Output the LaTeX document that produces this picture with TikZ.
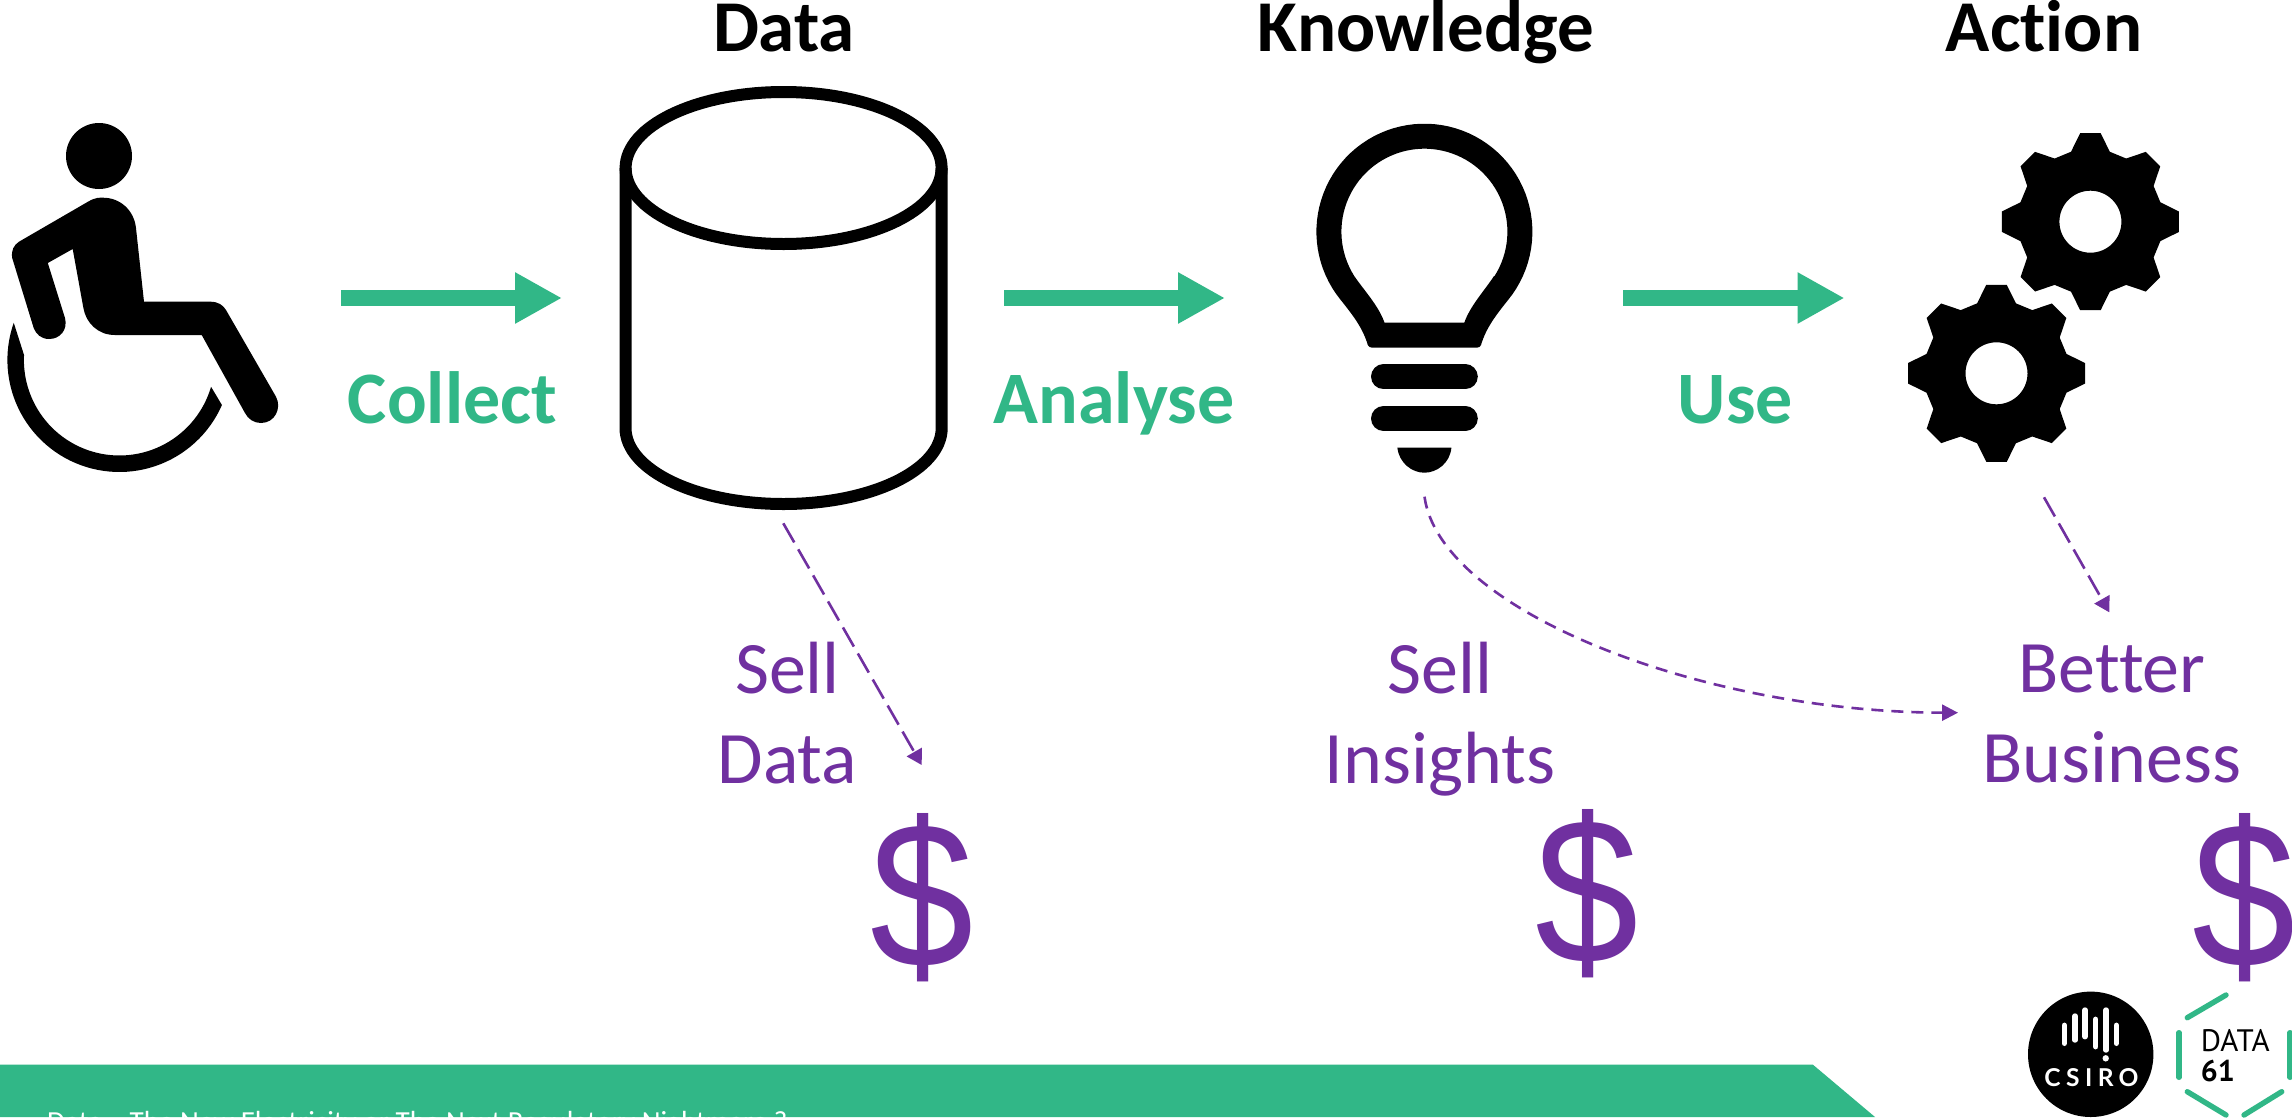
\documentclass[tikz,border=0pt]{standalone}
\usepackage{fontspec}
\setmainfont[Ligatures=NoCommon]{Carlito}
\newfontfamily\logofont[LetterSpace=22]{Lato}
\newfontfamily\dinfont{PT Sans}
\newfontfamily\dollarfont{Liberation Sans}
\usetikzlibrary{arrows.meta}
\definecolor{brandgreen}{HTML}{31B787}
\definecolor{brandpurple}{HTML}{7030A0}
\newcommand{\gearshape}[2]{%
  \begin{scope}[shift={(#1,#2)}]
    \fill[black,even odd rule] (-15.5:72.6)
      \foreach \a in {0,45,...,315} {
        -- ({\a-15.5}:72.6) -- ({\a-6.6}:89.1) -- ({\a+6.6}:89.1) -- ({\a+15.5}:72.6)
      } -- cycle
      (0,0) circle[radius=31];
  \end{scope}}
\tikzset{
  bigtitle/.style={font=\fontsize{73}{88}\selectfont\bfseries,text=black,inner sep=0,anchor=base},
  greenlabel/.style={font=\fontsize{74}{88}\selectfont\bfseries,text=brandgreen,inner sep=0,anchor=base},
  purplelabel/.style={font=\fontsize{74}{89.6}\selectfont,text=brandpurple,inner sep=0,anchor=base},
  dollar/.style={font=\dollarfont\fontsize{204}{204}\selectfont,text=brandpurple,inner sep=0,anchor=base},
  flowarrow/.style={draw=brandgreen,line width=16pt,-{Triangle[length=47pt,width=48pt]}},
  dasharrow/.style={draw=brandpurple,line width=2.6pt,dash pattern=on 22pt off 8pt,-{Triangle[length=15pt,width=17pt]}},
  dashcurve/.style={draw=brandpurple,line width=2.6pt,dash pattern=on 12pt off 8pt,-{Triangle[length=16pt,width=16pt]}},
  hexseg/.style={draw=brandgreen,line width=5.4pt,line cap=round},
  csirobar/.style={draw=white,line width=5.4pt,line cap=round},
  bulbbar/.style={draw=black,line width=25pt,line cap=round},
}
\begin{document}
\begin{tikzpicture}[x=1pt,y=-1pt]
\useasboundingbox (0,0) rectangle (2292,1117);
\clip (0,0) rectangle (2292,1117);
\fill[white] (0,0) rectangle (2292,1117);

% titles
\node[bigtitle] (tdata) at (784,51.7) {Data};
\node[bigtitle] (tknow) at (1426,51.7) {Knowledge};
\node[bigtitle] (tact) at (2044,51.7) {Action};

% person
\fill[black] (99,156) circle[radius=33];
\fill[black] (88,201.7) .. controls (96,197) and (100,197.7) .. (103,197.7) .. controls (120,197.7) and (134,210) .. (136,228) -- (144,301.7) -- (210.5,301.7) .. controls (218,301.7) and (223,305) .. (226,310) -- (276,396.7) .. controls (282,408) and (275,423) .. (261,423) .. controls (254,423) and (248,419) .. (245,413) -- (201.7,335) -- (114.8,335) .. controls (98,335) and (86,323) .. (83.4,308) -- (72.7,249) -- (47.8,263) -- (65,318) .. controls (68,330) and (60,339) .. (49,339) .. controls (41,339) and (36,334) .. (33.7,328) -- (12.2,258) .. controls (11,250) and (14,245) .. (19,241.7) -- cycle;
\fill[black] plot[domain=199.4:23.7,samples=60] ({119.4+112*cos(\x)},{360+112*sin(\x)}) -- plot[domain=16.3:183,samples=60] ({119.4+95.5*cos(\x)},{360+95.5*sin(\x)}) -- cycle;

% database
\draw[black,line width=12pt] (783.6,168) ellipse[x radius=158,y radius=76];
\draw[black,line width=12pt] (625.5,168) -- (625.5,428) .. controls (625.5,470) and (696,504) .. (783.6,504) .. controls (871,504) and (941.7,470) .. (941.7,428) -- (941.7,168);

% bulb
\fill[black,even odd rule]
  (1372,347.7) -- (1476.8,347.7) .. controls (1479,347.7) and (1480.5,346.5) .. (1481,345) .. controls (1486,328) and (1496,315) .. (1508.3,299.7)
  -- plot[domain=399:141,samples=70] ({1424.4+108*cos(\x)},{231.7+108*sin(\x)})
  .. controls (1352.8,315) and (1362.8,328) .. (1367.8,345) .. controls (1368.5,346.5) and (1370,347.7) .. (1372,347.7) -- cycle
  (1384.5,322.7) -- (1464.3,322.7) .. controls (1470,306) and (1485,290) .. (1494,276)
  -- plot[domain=392.5:147.5,samples=70] ({1424.4+83*cos(\x)},{231.7+83*sin(\x)})
  .. controls (1363.8,290) and (1378.8,306) .. (1384.5,322.7) -- cycle;
\draw[bulbbar] (1383.5,376.8) -- (1465.3,376.8);
\draw[bulbbar] (1383.5,418.5) -- (1465.3,418.5);
\fill[black] (1397.4,447.7) .. controls (1399,463) and (1412,472.7) .. (1424.4,472.7) .. controls (1437,472.7) and (1450,463) .. (1451.4,447.7) -- cycle;

% gears
\gearshape{2090.4}{221.7}
\gearshape{1996.5}{373.3}

% flow arrows
\coordinate (fa1s) at (341,298); \coordinate (fa1e) at (562,298);
\coordinate (fa2s) at (1004,298); \coordinate (fa2e) at (1225,298);
\coordinate (fa3s) at (1623.3,298); \coordinate (fa3e) at (1844.5,298);
\draw[flowarrow] (fa1s) -- (fa1e);
\draw[flowarrow] (fa2s) -- (fa2e);
\draw[flowarrow] (fa3s) -- (fa3e);
\node[greenlabel] (lcollect) at (452.5,423) {Collect};
\node[greenlabel] (lanalyse) at (1114,423) {Analyse};
\node[greenlabel] (luse) at (1735.5,423) {Use};

% dashed arrows
\coordinate (da1s) at (783.3,523.3); \coordinate (da1e) at (921.7,765);
\coordinate (da2s) at (1424.5,496.7); \coordinate (da2e) at (1958,712.7);
\coordinate (da3s) at (2044,497.3); \coordinate (da3e) at (2109.3,612.3);
\draw[dasharrow] (da1s) -- (da1e);
\draw[dashcurve] (da2s) .. controls (1440,610) and (1700,712) .. (da2e);
\draw[dasharrow] (da3s) -- (da3e);

% purple labels
\node[purplelabel,align=center] (lselldata) at (787.5,783) {Sell\\Data};
\node[purplelabel,align=center] (lsellins) at (1440,783) {Sell\\Insights};
\node[purplelabel,align=center] (lbetter) at (2112,782) {Better\\Business};

% dollars
\node[dollar] (d1) at (922,967) {\scalebox{0.91}[1.02]{\$}};
\node[dollar] (d2) at (1587,963) {\scalebox{0.91}[1.02]{\$}};
\node[dollar] (d3) at (2244,967) {\scalebox{0.91}[1.02]{\$}};

% footer band
\fill[brandgreen] (0,1064.5) -- (1812.7,1064.5) -- (1875,1117) -- (0,1117) -- cycle;
\node[font=\fontsize{29.1}{34}\selectfont,text=white,inner sep=0,anchor=base west] (footer) at (47,1131.5) {Data – The New Electricity or The Next Regulatory Nightmare ?};

% CSIRO logo
\fill[black] (2090.7,1054.3) circle[radius=62.7];
\draw[csirobar] (2064.3,1025.3) -- (2064.3,1043.3);
\draw[csirobar] (2075,1016) -- (2075,1040);
\draw[csirobar] (2085,1010) -- (2085,1036.7);
\draw[csirobar] (2095.7,1019.3) -- (2095.7,1046.7);
\draw[csirobar] (2106,1010) -- (2106,1050);
\draw[csirobar] (2116.3,1025.3) -- (2116.3,1043.3);
\fill[white] (2105.7,1058.3) circle[radius=3.2];
\node[font=\logofont\fontsize{24.6}{28}\selectfont\bfseries,text=white,inner sep=0,anchor=base] (csiro) at (2091.5,1086.7) {CSIRO};

% DATA61 logo
\draw[hexseg] (2187.3,1017.7) -- (2226,995);
\draw[hexseg] (2179,1032.7) -- (2179,1077.3);
\draw[hexseg] (2187.3,1091.7) -- (2226,1115);
\draw[hexseg] (2244,1115) -- (2281.7,1091.7);
\draw[hexseg] (2290,1032.7) -- (2290,1077.3);
\node[font=\dinfont\fontsize{31}{36}\selectfont,text=black,inner sep=0,anchor=base west] (ldata) at (2200.7,1051) {DATA};
\node[font=\dinfont\fontsize{30}{36}\selectfont\bfseries,text=black,inner sep=0,anchor=base west] (l61) at (2200.7,1081.7) {61};
\end{tikzpicture}
\end{document}
